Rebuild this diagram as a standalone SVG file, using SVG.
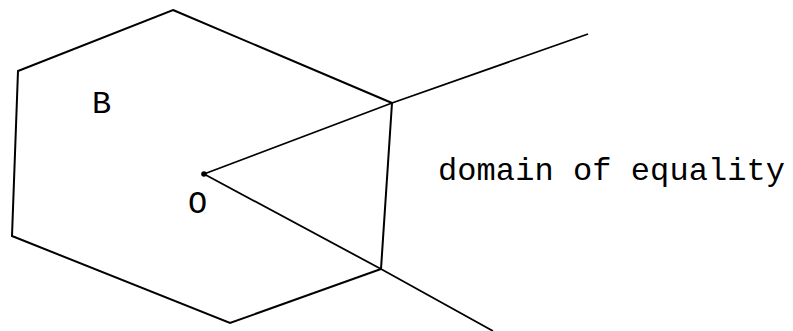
<svg xmlns="http://www.w3.org/2000/svg" width="793" height="331" viewBox="0 0 793 331">
<style>
.edge{fill:none;stroke:#000;stroke-width:2;stroke-linejoin:miter}
.ray{fill:none;stroke:#000;stroke-width:1.8}
.lbl{font-family:"Liberation Mono","Courier New",monospace;font-size:32px;fill:#000}
</style>
<rect width="793" height="331" fill="#fff"/>
<g id="hexagon-B">
<polygon class="edge" points="173,10 392,103 381,269 230,323 12,236 18,71"/>
<text class="lbl" x="92" y="113">B</text>
</g>
<g id="origin-O">
<circle cx="204" cy="174" r="2.8" fill="#000"/>
<text class="lbl" x="188" y="213">O</text>
</g>
<g id="domain-label">
<text class="lbl" x="438" y="180" textLength="347">domain of equality</text>
</g>
<g id="connectors">
<polyline class="ray" points="204,174 392,103 588,34"/>
<polyline class="ray" points="204,174 381,269 493,331"/>
</g>
</svg>
